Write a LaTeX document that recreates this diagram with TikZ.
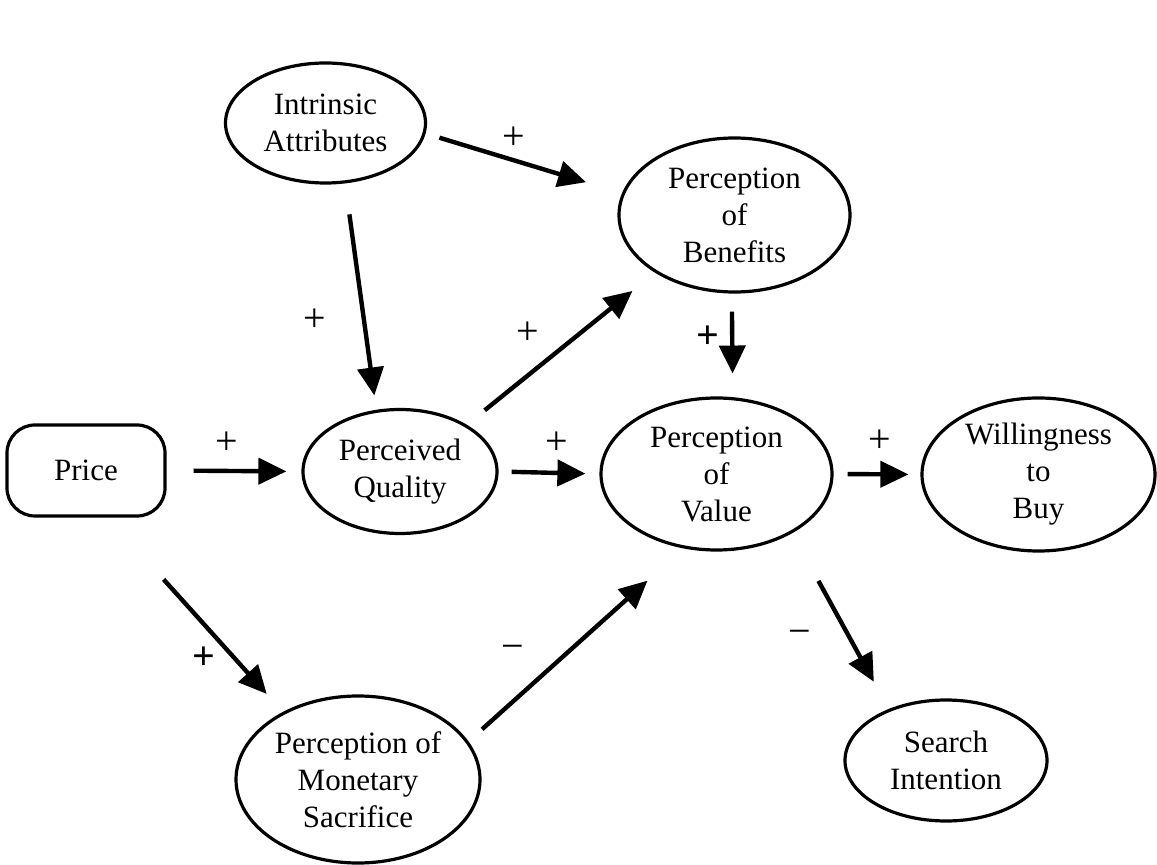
\documentclass[tikz,border=0pt]{standalone}
\usepackage{fontspec}
\setmainfont{Liberation Serif}
\usetikzlibrary{shapes.geometric,arrows.meta}
\begin{document}
\begin{tikzpicture}[x=0.5pt,y=-0.5pt,
  ell/.style={ellipse,draw,line width=1.6pt,inner sep=0pt,align=center,
    font=\fontsize{15.5}{18.5}\selectfont},
  rbox/.style={rectangle,rounded corners=14pt,draw,line width=1.6pt,inner sep=0pt,
    align=center,font=\fontsize{15.5}{18.5}\selectfont},
  arr/.style={line width=2.2pt,-{Triangle[length=14pt,width=13pt]}},
  sign/.style={inner sep=0pt,font=\fontsize{20}{20}\selectfont},
  bsign/.style={inner sep=0pt,font=\fontsize{20}{20}\selectfont\bfseries}]
\useasboundingbox[fill=white] (0,0) rectangle (1157,865);
% nodes
\node[ell,minimum width=100pt,minimum height=60pt] (IA) at (325.5,123) {Intrinsic\\Attributes};
\node[rbox,minimum width=79pt,minimum height=45.5pt] (Price) at (86,470.5) {Price};
\node[ell,minimum width=97pt,minimum height=62pt] (PQ) at (400,471.5) {Perceived\\Quality};
\node[ell,minimum width=115.5pt,minimum height=77pt] (PB) at (734.5,215) {Perception\\of\\Benefits};
\node[ell,minimum width=115.5pt,minimum height=76pt] (PV) at (716.5,474) {Perception\\of\\Value};
\node[ell,minimum width=116.5pt,minimum height=76.5pt] (WtB) at (1038.5,474.5) {Willingness\\to\\Buy};
\node[ell,minimum width=122pt,minimum height=83.5pt] (PMS) at (358,779.5) {Perception of\\Monetary\\Sacrifice};
\node[ell,minimum width=101pt,minimum height=60.5pt] (SI) at (946,760.5) {Search\\Intention};
% connectors
\draw[arr,shorten <=13.5pt,shorten >=7.5pt] (Price.east) -- (PQ.west);
\draw[arr,shorten <=15.6pt,shorten >=7.2pt] (IA.-72) -- (PQ.111);
\draw[arr,shorten <=7.2pt,shorten >=18.8pt] (IA.-6) -- (PB.169);
\draw[arr,shorten <=11.5pt,shorten >=14.5pt] (PQ.35) -- (PB.-144);
\draw[arr,shorten <=9pt,shorten >=11.8pt] (PB.-92) -- (PV.78);
\draw[arr,shorten <=6.5pt,shorten >=7pt] (PQ.east) -- (PV.west);
\draw[arr,shorten <=7pt,shorten >=6pt] (PV.east) -- (WtB.west);
\draw[arr,shorten <=41.6pt,shorten >=12.1pt] (Price.-65) -- (PMS.138);
\draw[arr,shorten <=9.1pt,shorten >=24.1pt] (PMS.19.5) -- (PV.-114);
\draw[arr,shorten <=27.2pt,shorten >=15.5pt] (PV.-38.4) -- (SI.138);
% signs
\node[sign] (s1) at (514,138) {+};
\node[sign] (s2) at (315,320) {+};
\node[sign] (s3) at (528,333) {+};
\node[bsign] (s4) at (708,337) {+};
\node[sign] (s5) at (227,443) {+};
\node[sign] (s6) at (557,443) {+};
\node[sign] (s7) at (880,441) {+};
\node[bsign] (s8) at (204,658) {+};
\node[sign] (s9) at (513,652) {−};
\node[sign] (s10) at (800,637) {−};
\end{tikzpicture}
\end{document}
